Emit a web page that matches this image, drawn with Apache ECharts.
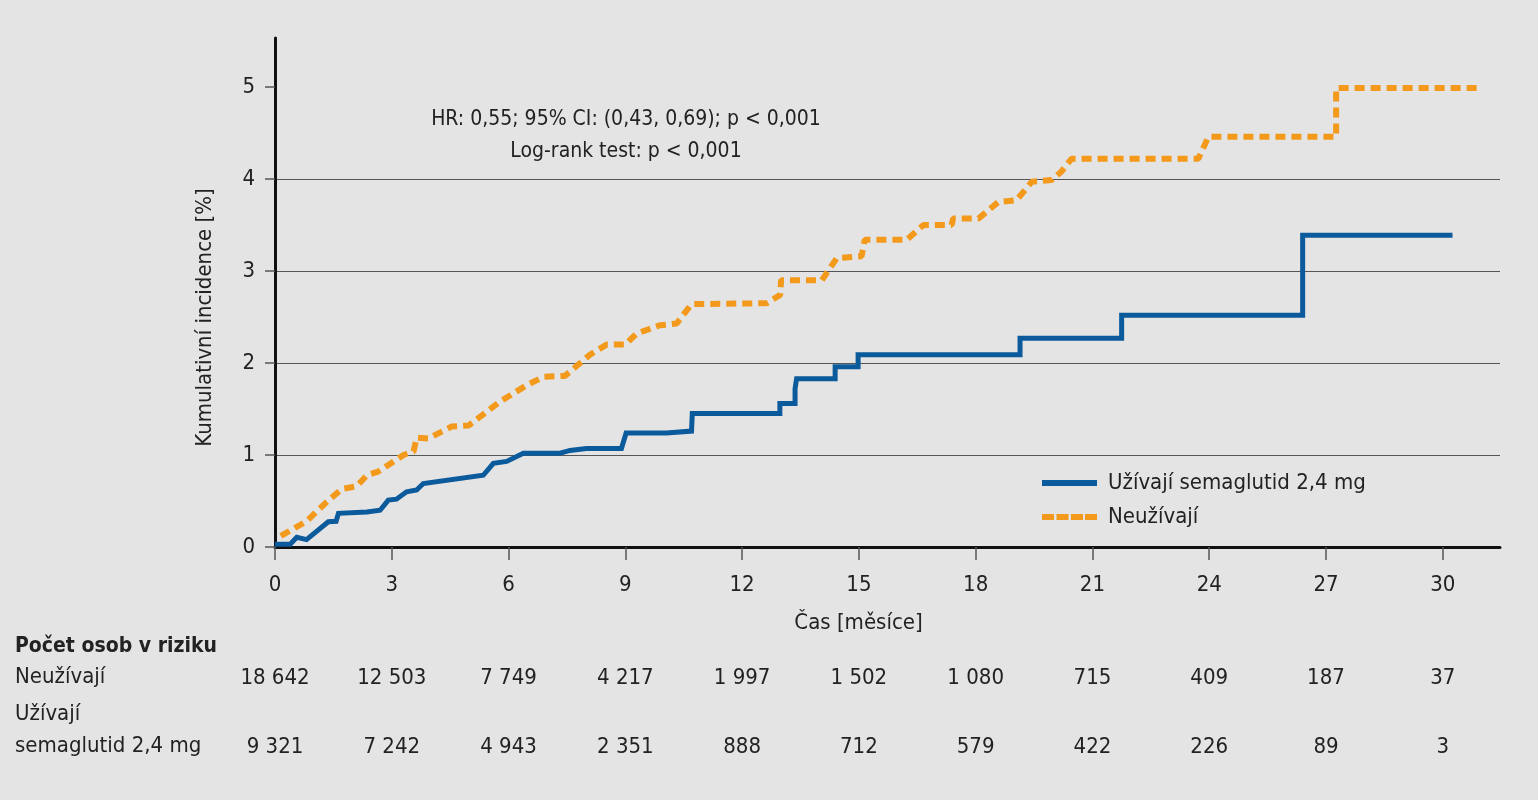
<!DOCTYPE html>
<html>
<head>
<meta charset="UTF-8">
<title>Kumulativní incidence</title>
<style>
  html, body { margin: 0; padding: 0; background: #e4e4e4; }
  #main { width: 1538px; height: 800px; }
</style>
</head>
<body>
<div id="main"></div>
<script src="https://cdn.jsdelivr.net/npm/echarts@6/dist/echarts.min.js"></script>
<script>
  // time axis (months) and risk table
  var monthTicks = [0, 3, 6, 9, 12, 15, 18, 21, 24, 27, 30];
  var yTicks = [0, 1, 2, 3, 4, 5];
  var riskNon = ['18 642', '12 503', '7 749', '4 217', '1 997', '1 502', '1 080', '715', '409', '187', '37'];
  var riskSema = ['9 321', '7 242', '4 943', '2 351', '888', '712', '579', '422', '226', '89', '3'];

  // Užívají semaglutid 2,4 mg - curve vertices (months, %)
  var semaTime = [0, 0.39, 0.56, 0.81, 1.37, 1.57, 1.63, 2.36, 2.7, 2.91, 3.12, 3.38, 3.64, 3.81, 5.35, 5.61, 5.95, 6.38, 7.32, 7.58, 8.0, 8.9, 9.02, 10.06, 10.1, 10.7, 10.72, 12.97, 12.97, 13.36, 13.36, 13.4, 14.39, 14.39, 14.98, 14.98, 19.14, 19.14, 21.75, 21.75, 26.4, 26.4, 30.25];
  var semaCum = [0.03, 0.03, 0.105, 0.08, 0.275, 0.28, 0.366, 0.38, 0.4, 0.51, 0.52, 0.6, 0.62, 0.69, 0.78, 0.91, 0.93, 1.02, 1.02, 1.05, 1.07, 1.07, 1.24, 1.24, 1.26, 1.26, 1.45, 1.45, 1.56, 1.56, 1.72, 1.83, 1.83, 1.96, 1.96, 2.09, 2.09, 2.27, 2.27, 2.52, 2.52, 3.39, 3.39];

  // Neužívají
  var nonTime = [0.15, 0.81, 1.33, 1.71, 2.1, 2.36, 2.65, 3.3, 3.56, 3.64, 3.94, 4.54, 4.97, 5.78, 6.47, 6.9, 7.45, 8.09, 8.52, 9.0, 9.29, 9.89, 10.32, 10.7, 12.63, 12.98, 13.0, 14.05, 14.43, 15.07, 15.15, 16.23, 16.66, 17.38, 17.42, 18.07, 18.58, 19.05, 19.44, 19.95, 20.2, 20.46, 23.72, 23.98, 27.26, 27.26, 30.87];
  var nonCum = [0.12, 0.28, 0.49, 0.63, 0.66, 0.78, 0.82, 1.0, 1.04, 1.19, 1.18, 1.31, 1.32, 1.58, 1.76, 1.85, 1.86, 2.09, 2.2, 2.2, 2.32, 2.41, 2.43, 2.64, 2.65, 2.74, 2.9, 2.9, 3.14, 3.16, 3.34, 3.34, 3.5, 3.5, 3.57, 3.57, 3.75, 3.77, 3.97, 3.99, 4.08, 4.22, 4.22, 4.46, 4.46, 4.99, 4.99];

  function pairs(t, v) {
    var out = [];
    for (var i = 0; i < t.length; i++) out.push([t[i], v[i]]);
    return out;
  }

  var FONT = "'Liberation Sans Narrow', 'DejaVu Sans Condensed', 'Open Sans', sans-serif";
  var TXT = '#222';
  var BLUE = '#0b5a9c';
  var ORANGE = '#f39a1d';
  var FS = 22;

  var chart = echarts.init(document.getElementById('main'));

  var riskAxis = function (labels, offset) {
    return {
      type: 'value', gridIndex: 0, position: 'bottom', offset: offset,
      min: 0, max: 31.47,
      axisLine: { show: false }, axisTick: { show: false }, splitLine: { show: false },
      axisLabel: {
        customValues: monthTicks, margin: 0, verticalAlign: 'middle',
        color: TXT, fontFamily: FONT, fontSize: FS,
        formatter: function (v) { return labels[monthTicks.indexOf(v)]; }
      }
    };
  };

  var option = {
    backgroundColor: '#e4e4e4',
    animation: false,
    textStyle: { fontFamily: FONT },
    title: {
      text: 'HR: 0,55; 95% CI: (0,43, 0,69); p < 0,001\nLog-rank test: p < 0,001',
      left: 621, top: 99, textAlign: 'center',
      textStyle: { fontFamily: FONT, fontSize: 21, fontWeight: 'normal', color: TXT, lineHeight: 32 }
    },
    legend: {
      orient: 'vertical', left: 1037, top: 467, itemWidth: 55, itemHeight: 6, itemGap: 12,
      textStyle: { fontFamily: FONT, fontSize: FS, color: TXT, padding: [0, 0, 0, 6] },
      data: [
        { name: 'Užívají semaglutid 2,4 mg', icon: 'rect', itemStyle: { color: BLUE } },
        { name: 'Neužívají', icon: 'path://M0,0h12v6h-12z M14.5,0h12v6h-12z M29,0h12v6h-12z M43,0h12v6h-12z', itemStyle: { color: ORANGE } }
      ]
    },
    grid: { left: 275, right: 38, top: 38, bottom: 253, containLabel: false },
    xAxis: [{
      type: 'value', min: 0, max: 31.47,
      name: 'Čas [měsíce]', nameLocation: 'middle', nameGap: 65,
      nameTextStyle: { fontFamily: FONT, fontSize: FS, color: TXT, padding: [0, 58, 0, 0] },
      axisLine: { lineStyle: { color: '#111', width: 3 } },
      axisTick: { customValues: monthTicks, length: 13, lineStyle: { color: '#555', width: 1.5 } },
      axisLabel: { customValues: monthTicks, margin: 27, color: TXT, fontFamily: FONT, fontSize: FS },
      splitLine: { show: false }
    }, riskAxis(riskNon, 131), riskAxis(riskSema, 200)],
    yAxis: {
      type: 'value', min: 0, max: 5.533,
      name: 'Kumulativní incidence [%]', nameLocation: 'middle', nameGap: 59,
      nameTextStyle: { fontFamily: FONT, fontSize: FS, color: TXT, padding: [0, 50, 0, 0] },
      axisLine: { show: true, lineStyle: { color: '#111', width: 3 } },
      axisTick: { show: true, customValues: yTicks, length: 10, lineStyle: { color: '#555', width: 1.5 } },
      axisLabel: { customValues: yTicks, margin: 20, color: TXT, fontFamily: FONT, fontSize: FS },
      splitLine: { show: true, showMaxLine: false, lineStyle: { color: '#555', width: 1.2 } }
    },
    graphic: [
      { type: 'text', left: 15, top: 636, style: { text: 'Počet osob v riziku', font: 'bold 21px ' + FONT, fill: TXT } },
      { type: 'text', left: 15, top: 666, style: { text: 'Neužívají', font: FS + 'px ' + FONT, fill: TXT } },
      { type: 'text', left: 15, top: 703, style: { text: 'Užívají', font: FS + 'px ' + FONT, fill: TXT } },
      { type: 'text', left: 15, top: 735, style: { text: 'semaglutid 2,4 mg', font: FS + 'px ' + FONT, fill: TXT } }
    ],
    series: [{
      name: 'Užívají semaglutid 2,4 mg', type: 'line', showSymbol: false, symbol: 'none',
      lineStyle: { color: BLUE, width: 5, join: 'miter' }, itemStyle: { color: BLUE },
      data: pairs(semaTime, semaCum)
    }, {
      name: 'Neužívají', type: 'line', showSymbol: false, symbol: 'none',
      lineStyle: { color: ORANGE, width: 6, type: [10, 6] }, itemStyle: { color: ORANGE },
      data: pairs(nonTime, nonCum)
    }]
  };

  chart.setOption(option);
  window.addEventListener('resize', function () { chart.resize(); });
</script>
</body>
</html>
